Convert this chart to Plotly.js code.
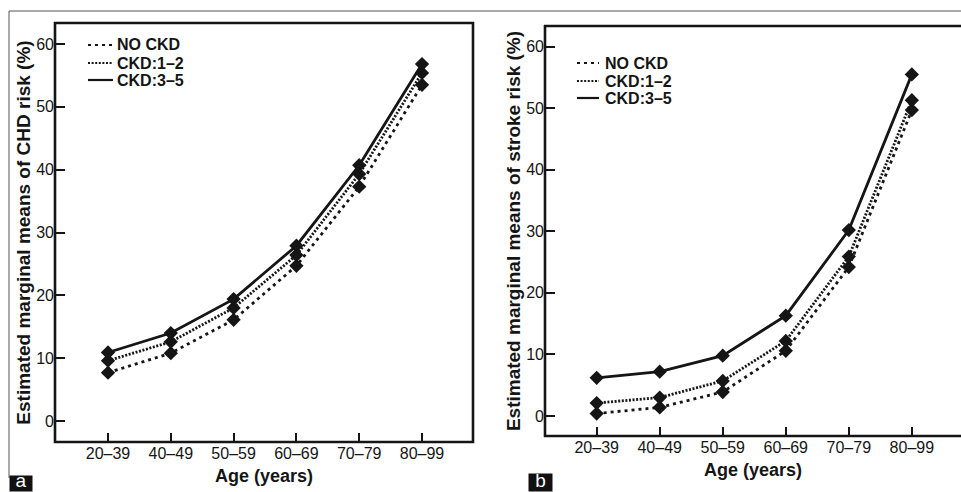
<!DOCTYPE html>
<html>
<head>
<meta charset="utf-8">
<script src="https://cdn.plot.ly/plotly-3.0.1.min.js"></script>
<style>html,body{margin:0;padding:0;background:#fff;overflow:hidden;}#chart{width:961px;height:492px;}</style>
</head>
<body>
<div id="chart"></div>
<script>
// ---- Data ----
const ageGroups = ['20–39', '40–49', '50–59', '60–69', '70–79', '80–99'];
const seriesNames = ['NO CKD', 'CKD:1–2', 'CKD:3–5'];
// Panel a: CHD risk (%)
const chdNoCkd = [7.7, 10.8, 16.1, 24.7, 37.3, 53.5];
const chdCkd12 = [9.6, 12.6, 18.0, 26.4, 39.3, 55.4];
const chdCkd35 = [10.9, 14.0, 19.4, 27.9, 40.7, 56.8];
// Panel b: stroke risk (%)
const strokeNoCkd = [0.4, 1.4, 3.9, 10.6, 24.2, 49.7];
const strokeCkd12 = [2.1, 3.0, 5.7, 12.2, 25.9, 51.3];
const strokeCkd35 = [6.2, 7.2, 9.8, 16.3, 30.2, 55.5];
const yTicks = [0, 10, 20, 30, 40, 50, 60];

// ---- Styles ----
const W = 961, H = 492;
const px = v => v / W, py = v => (H - v) / H;
const dashes = ['3px,4px', '2px,1.6px', 'solid'];
const ink = '#151515';
const FONT = 'Liberation Sans, Arial, sans-serif';

function panelTraces(seriesList, xa, ya) {
  const out = [];
  seriesList.forEach((vals, i) => {
    out.push({
      x: ageGroups, y: vals, xaxis: xa, yaxis: ya, type: 'scatter', mode: 'lines',
      name: seriesNames[i], showlegend: false,
      line: {color: ink, width: 2.8, dash: dashes[i]}, hoverinfo: 'skip'
    });
  });
  seriesList.forEach((vals, i) => {
    out.push({
      x: ageGroups, y: vals, xaxis: xa, yaxis: ya, type: 'scatter', mode: 'markers',
      showlegend: false, name: seriesNames[i],
      marker: {symbol: 'diamond', size: 11, color: ink}
    });
  });
  return out;
}

const traces = [
  ...panelTraces([chdNoCkd, chdCkd12, chdCkd35], 'x', 'y'),
  ...panelTraces([strokeNoCkd, strokeCkd12, strokeCkd35], 'x2', 'y2')
];

const xBase = {
  type: 'category', showgrid: false, zeroline: false, showline: false,
  ticks: 'inside', ticklen: 9, tickwidth: 2, tickcolor: ink,
  tickfont: {family: FONT, size: 16, color: ink},
  title: {text: 'Age (years)', font: {family: FONT, size: 18, color: ink, weight: 'bold'}, standoff: 8},
  fixedrange: true
};
const yBase = {
  showgrid: false, zeroline: false, showline: false, automargin: true,
  tickvals: yTicks, ticks: 'inside', ticklen: 10, tickwidth: 2, tickcolor: ink,
  tickfont: {family: FONT, size: 16, color: ink}, fixedrange: true
};

const boxLine = {color: ink, width: 2.6};
const frameLine = {color: '#555', width: 1};

// manual legends (styling only)
const legendSpecs = [
  {x0: 88, x1: 113, tx: 115, ys: [45, 63, 80]},
  {x0: 577, x1: 599, tx: 603, ys: [63, 81, 98]}
];
const legendShapes = [], legendTexts = [];
legendSpecs.forEach(spec => {
  seriesNames.forEach((nm, i) => {
    legendShapes.push({type: 'line', xref: 'paper', yref: 'paper', x0: px(spec.x0), x1: px(spec.x1),
      y0: py(spec.ys[i]), y1: py(spec.ys[i]), line: {color: ink, width: 2.2, dash: dashes[i]}});
    legendTexts.push({text: nm, xref: 'paper', yref: 'paper', x: px(spec.tx), y: py(spec.ys[i]),
      xanchor: 'left', yanchor: 'middle', showarrow: false,
      font: {family: FONT, size: 16, color: ink, weight: 'bold'}});
  });
});

const layout = {
  width: W, height: H, margin: {l: 0, r: 0, t: 0, b: 0},
  paper_bgcolor: '#fff', plot_bgcolor: '#fff', showlegend: false,
  font: {family: FONT, color: ink},
  xaxis: Object.assign({}, xBase, {domain: [px(55), px(473)], range: [-0.844, 5.812], anchor: 'y'}),
  yaxis: Object.assign({}, yBase, {domain: [py(442), py(23)], range: [-3.34, 63.34], anchor: 'x',
    title: {text: 'Estimated marginal means of CHD risk (%)', font: {family: FONT, size: 19, color: ink, weight: 'bold'}, standoff: 0}}),
  xaxis2: Object.assign({}, xBase, {domain: [px(545), 1], range: [-0.82, 5.78], anchor: 'y2'}),
  yaxis2: Object.assign({}, yBase, {domain: [py(436), py(26)], range: [-3.25, 63.36], anchor: 'x2',
    title: {text: 'Estimated marginal means of stroke risk (%)', font: {family: FONT, size: 19, color: ink, weight: 'bold'}, standoff: 0}}),
  shapes: [
    // outer figure frame
    {type: 'line', xref: 'paper', yref: 'paper', x0: px(9), x1: px(9), y0: py(478), y1: py(11), line: frameLine},
    {type: 'line', xref: 'paper', yref: 'paper', x0: px(9), x1: 1, y0: py(11), y1: py(11), line: frameLine},
    // panel a box
    {type: 'rect', xref: 'paper', yref: 'paper', x0: px(55), x1: px(473), y0: py(442), y1: py(23), line: boxLine, layer: 'above'},
    // panel b box (right side is cut off in the figure)
    {type: 'line', xref: 'paper', yref: 'paper', x0: px(545), x1: px(545), y0: py(437), y1: py(25), line: boxLine},
    {type: 'line', xref: 'paper', yref: 'paper', x0: px(544), x1: 1, y0: py(26), y1: py(26), line: boxLine},
    {type: 'line', xref: 'paper', yref: 'paper', x0: px(544), x1: 1, y0: py(436), y1: py(436), line: boxLine},
    ...legendShapes
  ],
  annotations: [
    ...legendTexts,
    {text: 'a', xref: 'paper', yref: 'paper', x: px(9), y: 0, xanchor: 'left', yanchor: 'bottom', showarrow: false,
      bgcolor: '#111', font: {family: FONT, size: 19, color: '#fff'}, width: 22, height: 15, borderpad: 0, valign: 'bottom'},
    {text: 'b', xref: 'paper', yref: 'paper', x: px(528), y: 0, xanchor: 'left', yanchor: 'bottom', showarrow: false,
      bgcolor: '#111', font: {family: FONT, size: 19, color: '#fff'}, width: 23, height: 17, borderpad: 0, valign: 'bottom'}
  ]
};

Plotly.newPlot('chart', traces, layout, {displayModeBar: false, staticPlot: true});
</script>
</body>
</html>
